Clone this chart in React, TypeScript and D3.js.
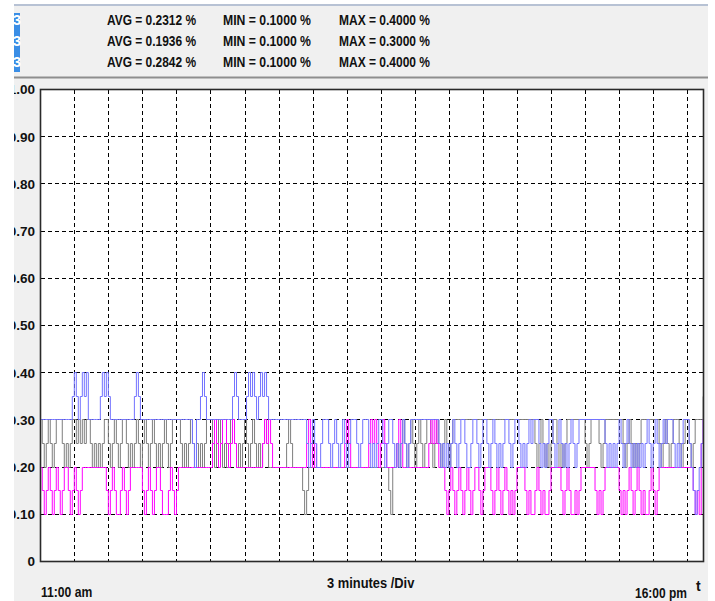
import React from "react";
import * as d3 from "d3";

const W = 715;
const H = 601;

// Each character is one sample, 3/17 minute apart (17 samples per 3-minute division).
// Codes: 1=0.10 a=0.15 2=0.20 b=0.25 3=0.30 c=0.35 4=0.40
const LEVEL: Record<string, number> = { "1": 0.1, a: 0.15, "2": 0.2, b: 0.25, "3": 0.3, c: 0.35, "4": 0.4 };

const grayTrace = [
  "3b2b3b2b333b2b2b3", "3b3b3b33b2b2b2b33", "b2b3b2b33b2b2b3b2", "b3b2b3b2b2b3b2b33",
  "33b2b2b3b2b2b2b33", "3b2b3b2b2b33b2b2b", "3b2b3b2b2b3b22222", "2222b3b22222a1a22",
  "22222222222222222", "22222222222222222", "2222a122b2b3b2b3b", "2b3b2b33b2b3b2b3b",
  "2b333333333333333", "33333333333333333", "333333333b2b3b2b2", "b33b2b2b333333333",
  "b2b3333b2b3333333", "33b2b3b2b2b333333", "333b2b3b2b333b2b3", "3b2b3333c",
];

const magentaTrace = [
  "2a1a2a1a2a1a22a1a", "2a1a222222222222a", "1a2a11a2a1a222222", "a1a2a1a22a111a2a1",
  "a2222222222222222", "2b3b2b33b2b3b2222", "222222222b3b3b222", "22222222222222b3b",
  "2b22222222222222b", "3b222222222b3b3b2", "b3b22222b3b222222", "2222222b3b3b222a1",
  "a2a1a2a1a2a1a22a1", "a222a1a2a1a2a1a1a", "2222a1a11a2a1a11a", "22222a1a2a11a1a22",
  "22222a1a1a2222222", "a1a1a2a1a2a1a11a2", "a1a22222222222222", "222a1a1b3",
];

const blueTrace = [
  "3333333333333333c", "4c3c4c4333333c4c4", "c333333333333c4c3", "33333333333333333",
  "33333333b233c4c33", "33333333333c4c333", "3c4c4c3c4c4c33333", "33333333333333b2b",
  "3b22b333b2b3b2b3b", "2b333b2b333b2b2b3", "3b2b33b2b2b3b2b33", "333333333333b2b2b",
  "2b3b2b33b22b33b2b", "33b2b3b2b2b33b2b3", "3b2b2b3b333b2b2b3", "3b2b3b2b2b3b2b333",
  "3333333333b2b2b2b", "3b2b3b2b2b2b2b3b2", "b3b2b3b333b2b2b33", "3b2a1a2b3",
];

// Summary rows shown in the header
const avgValues = [0.2312, 0.1936, 0.2842];
const minValues = [0.1, 0.1, 0.1];
const maxValues = [0.4, 0.3, 0.4];

const yTicks = [1, 0.9, 0.8, 0.7, 0.6, 0.5, 0.4, 0.3, 0.2, 0.1, 0];
const yTickLabels = ["1.00", "0.90", "0.80", "0.70", "0.60", "0.50", "0.40", "0.30", "0.20", "0.10", "0"];

const MINUTES_PER_DIV = 3;
const SAMPLES_PER_DIV = 17;
const SPAN_MINUTES = 58.4;
const startLabel = "11:00 am";
const endLabel = "16:00 pm";
const divLabel = "3 minutes /Div";
const axisLetter = "t";

type Pt = { t: number; v: number };

function decode(chunks: string[]): Pt[] {
  const codes = chunks.join("").split("");
  const dt = MINUTES_PER_DIV / SAMPLES_PER_DIV;
  return codes.map((c, i) => ({ t: i * dt, v: LEVEL[c] }));
}

const series = [
  { name: "gray", color: "#7e7e7e", data: decode(grayTrace) },
  { name: "magenta", color: "#ff00ff", data: decode(magentaTrace) },
  { name: "blue", color: "#7272ff", data: decode(blueTrace) },
];

const sans = "'Liberation Sans', Arial, sans-serif";

export default function App() {
  const left = 40.5;
  const right = 703.5;
  const top = 89.5;
  const bottom = 561.5;

  const x = d3.scaleLinear().domain([0, SPAN_MINUTES]).range([40.25, 703.05]);
  const y = d3.scaleLinear().domain([0, 1]).range([bottom, top]);
  const yPix = (v: number) => Math.floor(y(v)) + 0.5;

  const line = d3
    .line<Pt>()
    .x((d) => x(d.t))
    .y((d) => yPix(d.v))
    .curve(d3.curveStepAfter);

  const vGrid = d3.range(MINUTES_PER_DIV, SPAN_MINUTES, MINUTES_PER_DIV);
  const hGrid = yTicks.filter((v) => v > 0 && v < 1);

  const headerRows = [25, 46, 67];

  return (
    <svg
      width={W}
      height={H}
      style={{ position: "absolute", left: 0, top: 0, display: "block" }}
      xmlns="http://www.w3.org/2000/svg"
    >
      <defs>
        <clipPath id="panelClip">
          <rect x={14} y={0} width={694} height={H} />
        </clipPath>
        <clipPath id="plotClip">
          <rect x={left} y={top} width={right - left} height={bottom - top} />
        </clipPath>
      </defs>
      <rect x={0} y={0} width={W} height={H} fill="#ffffff" />
      <rect x={14} y={5} width={694} height={H - 5} fill="#f0f0f0" />
      <line x1={14} x2={708} y1={5} y2={5} stroke="#b7c2d4" strokeWidth={2} />
      <line x1={14} x2={708} y1={77.5} y2={77.5} stroke="#8e8e8e" strokeWidth={2} />

      <g clipPath="url(#panelClip)">
        <rect x={14} y={13} width={6} height={59} fill="#3a8ee6" />
        {headerRows.map((by, i) => (
          <g key={i} fontFamily={sans} fontWeight="bold" fontSize={15} fill="#111">
            <text x={21} y={by} textAnchor="end" fill="#ffffff">3</text>
            <text x={107} y={by} textLength={89} lengthAdjust="spacingAndGlyphs">
              {`AVG = ${avgValues[i].toFixed(4)} %`}
            </text>
            <text x={223} y={by} textLength={88} lengthAdjust="spacingAndGlyphs">
              {`MIN = ${minValues[i].toFixed(4)} %`}
            </text>
            <text x={339} y={by} textLength={91} lengthAdjust="spacingAndGlyphs">
              {`MAX = ${maxValues[i].toFixed(4)} %`}
            </text>
          </g>
        ))}

        {yTicks.map((v, i) => (
          <text
            key={v}
            x={35}
            y={y(v)}
            dy="0.36em"
            textAnchor="end"
            fontFamily={sans}
            fontWeight="bold"
            fontSize={13.5}
            fill="#111"
          >
            {yTickLabels[i]}
          </text>
        ))}
      </g>

      <rect x={left} y={top} width={right - left} height={bottom - top} fill="#ffffff" />

      <g stroke="#000" strokeWidth={1} strokeDasharray="4,3" shapeRendering="crispEdges">
        {hGrid.map((v) => (
          <line key={`h${v}`} x1={left} x2={right} y1={yPix(v)} y2={yPix(v)} />
        ))}
        {vGrid.map((t) => (
          <line key={`v${t}`} x1={Math.round(x(t)) + 0.5} x2={Math.round(x(t)) + 0.5} y1={top} y2={bottom} />
        ))}
      </g>

      <g clipPath="url(#plotClip)" fill="none" strokeWidth={1}>
        {series.map((s) => (
          <path key={s.name} d={line(s.data) || ""} stroke={s.color} />
        ))}
      </g>

      <rect
        x={left}
        y={top}
        width={right - left}
        height={bottom - top}
        fill="none"
        stroke="#2a2a2a"
        strokeWidth={1.6}
      />

      <g fontFamily={sans} fontWeight="bold" fontSize={15} fill="#111">
        <text transform="translate(41,597) scale(0.81,1)">{startLabel}</text>
        <text transform="translate(327,588) scale(0.86,1)">{divLabel}</text>
        <text transform="translate(635,598) scale(0.8,1)">{endLabel}</text>
        <text x={696} y={591} fontSize={14}>{axisLetter}</text>
      </g>
    </svg>
  );
}
